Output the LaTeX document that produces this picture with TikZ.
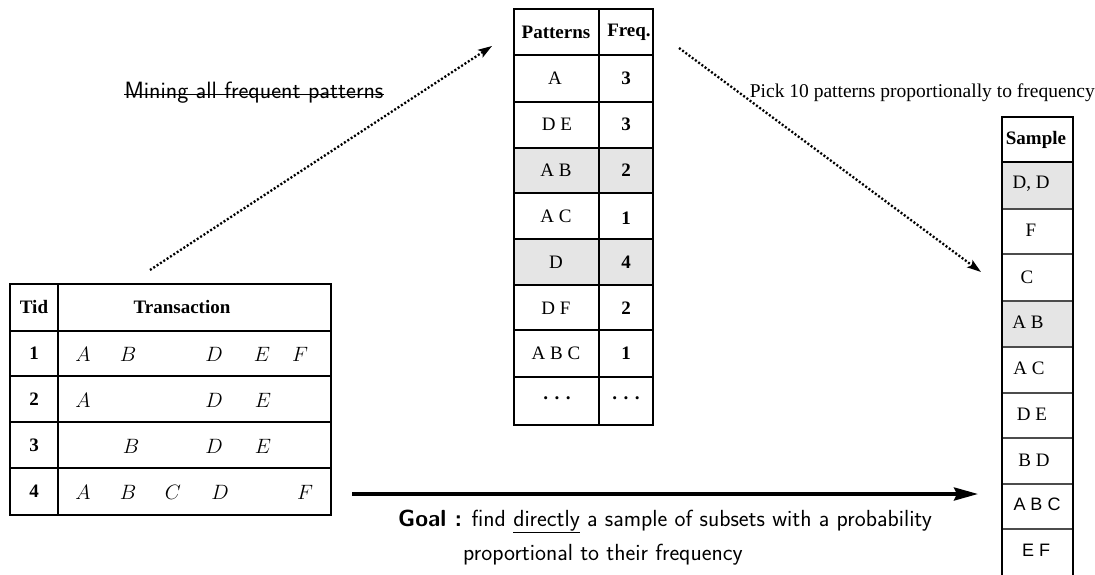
\documentclass[tikz,border=0pt]{standalone}
\usepackage{fontspec}
\setmainfont{Liberation Serif}
\newfontfamily\helv{Liberation Sans}
\usetikzlibrary{arrows.meta}
\begin{document}
\begin{tikzpicture}[x=1pt,y=-1pt,
  grid/.style={line width=1.6pt},
  lgrid/.style={line width=1.6pt, draw=black!70},
  shade/.style={fill=black!10},
  ttxt/.style={font=\fontsize{19}{22}\selectfont, inner sep=0pt},
  btxt/.style={font=\fontsize{19}{22}\selectfont\bfseries, inner sep=0pt},
  htxt/.style={font=\fontsize{18}{22}\selectfont\helv, inner sep=0pt},
  mtxt/.style={font=\fontsize{20}{22}\selectfont, inner sep=0pt},
  stxt/.style={font=\fontsize{23.3}{26}\selectfont\sffamily, inner sep=0pt},
  dotarrow/.style={line width=2.3pt, dash pattern=on 2pt off 2pt, -{Stealth[length=14pt,width=9pt,inset=3pt]}},
  bigarrow/.style={line width=3.5pt, -{Stealth[length=24pt,width=13pt,inset=3pt]}},
]
\useasboundingbox (0,0) rectangle (1095,575);

% ---------- Transaction table ----------
\draw[grid] (10,284) rectangle (331,515);
\draw[grid] (58,284) -- (58,515);
\foreach \y in {331,376,422,468} \draw[grid] (10,\y) -- (331,\y);
\node[btxt] (tid) at (34,307) {Tid};
\node[btxt] (trans) at (182,307) {Transaction};
\node[btxt] (r1) at (34,353) {1};
\node[btxt] (r2) at (34,399) {2};
\node[btxt] (r3) at (34,445) {3};
\node[btxt] (r4) at (34,491) {4};
% row 1
\node[mtxt] (a1) at (83,354) {$A$};
\node[mtxt] (b1) at (128,354) {$B$};
\node[mtxt] (d1) at (214,354) {$D$};
\node[mtxt] (e1) at (262,354) {$E$};
\node[mtxt] (f1) at (300,354) {$F$};
% row 2
\node[mtxt] (a2) at (83,400) {$A$};
\node[mtxt] (d2) at (214,400) {$D$};
\node[mtxt] (e2) at (263,400) {$E$};
% row 3
\node[mtxt] (b3) at (131,446) {$B$};
\node[mtxt] (d3) at (214,446) {$D$};
\node[mtxt] (e3) at (263,446) {$E$};
% row 4
\node[mtxt] (a4) at (83,492) {$A$};
\node[mtxt] (b4) at (128,492) {$B$};
\node[mtxt] (c4) at (173,492) {$C$};
\node[mtxt] (d4) at (220,492) {$D$};
\node[mtxt] (f4) at (305,492) {$F$};

% ---------- Patterns table ----------
\fill[shade] (514,148) rectangle (653,193);
\fill[shade] (514,239) rectangle (653,285);
\draw[grid] (514,9) rectangle (653,425);
\draw[grid] (599,9) -- (599,425);
\foreach \y in {55,102,148,193,239,285,330,377} \draw[grid] (514,\y) -- (653,\y);
\node[btxt] (phead) at (556,32) {Patterns};
\node[btxt] (fhead) at (629,32) {Freq.};
\node[ttxt] (p1) at (555,78) {A};
\node[btxt] (q1) at (626,78) {3};
\node[ttxt] (p2) at (557,124) {D E};
\node[btxt] (q2) at (626,124) {3};
\node[ttxt] (p3) at (556,170) {A B};
\node[btxt] (q3) at (626,170) {2};
\node[ttxt] (p4) at (556,216) {A C};
\node[btxt] (q4) at (626,218) {1};
\node[ttxt] (p5) at (556,262) {D};
\node[btxt] (q5) at (626,262) {4};
\node[ttxt] (p6) at (556,308) {D F};
\node[btxt] (q6) at (626,308) {2};
\node[ttxt] (p7) at (556,353) {A B C};
\node[btxt] (q7) at (626,353) {1};
\node[btxt] (p8) at (557,401) {·\hspace{5pt}·\hspace{5pt}·};
\node[btxt] (q8) at (626,401) {·\hspace{5pt}·\hspace{5pt}·};

% ---------- Sample table ----------
\fill[shade] (1002,162) rectangle (1073,209);
\fill[shade] (1002,301) rectangle (1073,347);
\foreach \y in {162,209,254,301,347,393,438,484,529} \draw[lgrid] (1002,\y) -- (1073,\y);
\draw[grid] (1002,117) rectangle (1073,578);
\draw[grid] (1002,117) -- (1073,117) (1002,162) -- (1073,162);
\node[btxt] (shead) at (1036,140) {Sample};
\node[ttxt] (s1) at (1031,184) {D, D};
\node[ttxt] (s2) at (1031,230) {F};
\node[ttxt] (s3) at (1027,277) {C};
\node[ttxt] (s4) at (1028,322) {A B};
\node[ttxt] (s5) at (1029,368) {A C};
\node[ttxt] (s6) at (1032,414) {D E};
\node[ttxt] (s7) at (1034,460) {B D};
\node[htxt] (s8) at (1037,504) {A B C};
\node[htxt] (s9) at (1036,550) {E F};

% ---------- Arrows and labels ----------
\coordinate (m1) at (150,270);
\coordinate (m2) at (492,46);
\draw[dotarrow] (m1) -- (m2);
\coordinate (k1) at (679,48);
\coordinate (k2) at (981,272);
\draw[dotarrow] (k1) -- (k2);
\coordinate (g1) at (352,494);
\coordinate (g2) at (978,494);
\draw[bigarrow] (g1) -- (g2);

\node[stxt, font=\fontsize{23.6}{26}\selectfont\sffamily] (mining) at (254,93) {Mining all frequent patterns};
\draw[line width=1.4pt] ([yshift=4.5pt]mining.base west) -- ([yshift=4.5pt]mining.base east);
\node[ttxt, font=\fontsize{19.5}{22}\selectfont, anchor=east] (pick) at (1095,93) {Pick 10 patterns proportionally to frequency};
\node[stxt, anchor=base west] (goal1) at (398,526) {\textbf{Goal :} find \underline{directly} a sample of subsets with a probability};
\node[stxt, anchor=base west] (goal2) at (463,560) {proportional to their frequency};
\end{tikzpicture}
\end{document}
